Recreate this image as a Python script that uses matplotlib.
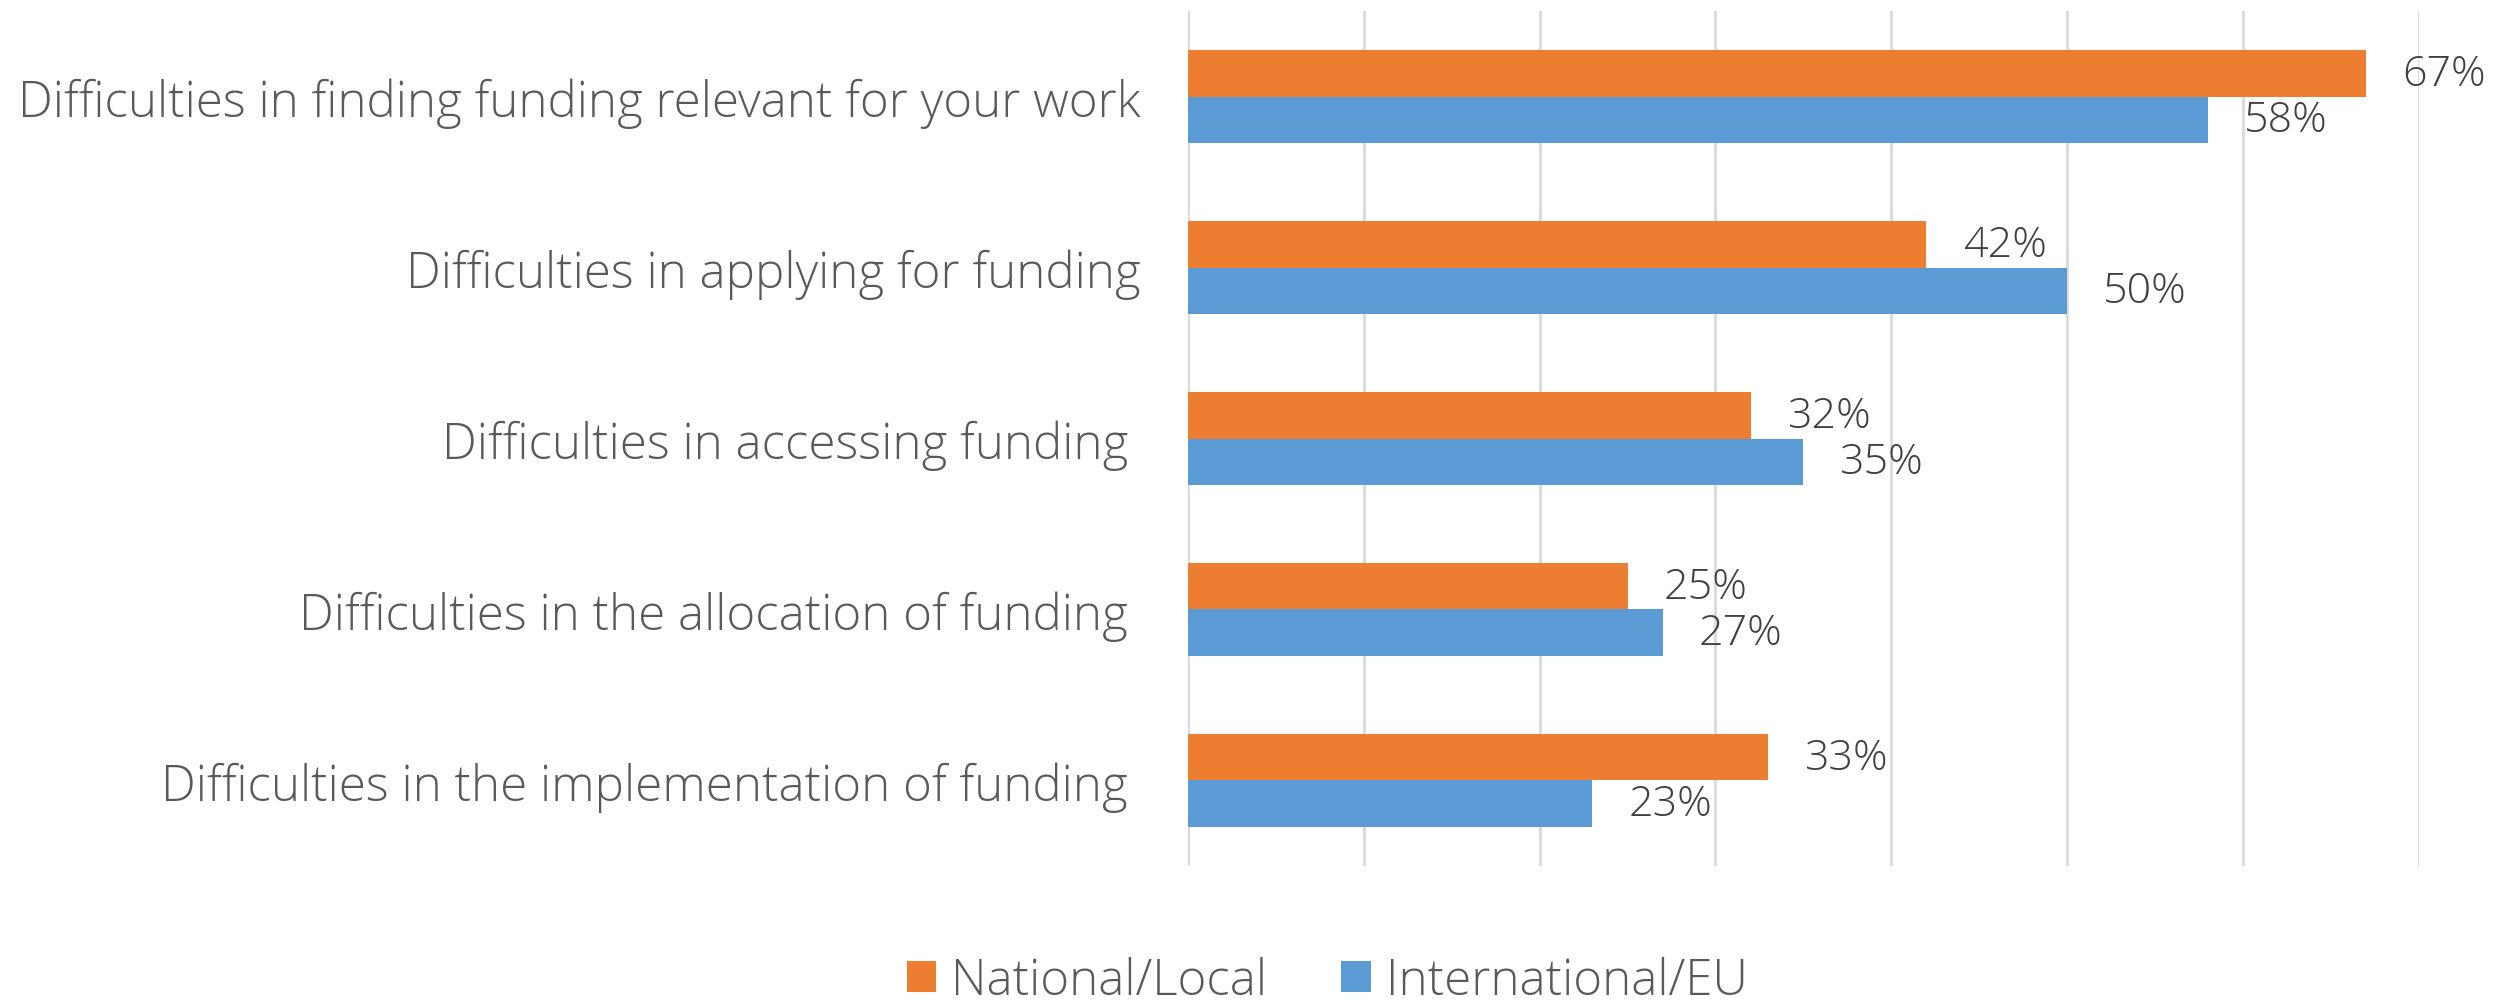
import numpy as np
import matplotlib
matplotlib.use("Agg")
import matplotlib.pyplot as plt

categories = [
    "Difficulties in finding funding relevant for your work",
    "Difficulties in applying for funding",
    "Difficulties in accessing funding ",
    "Difficulties in the allocation of funding ",
    "Difficulties in the implementation of funding ",
]
national = [67, 42, 32, 25, 33]
international = [58, 50, 35, 27, 23]
series_names = ["National/Local", "International/EU"]

ORANGE = "#ED7D31"
BLUE = "#5B9BD5"
TEXT = "#595959"

plt.rcParams["font.family"] = ["Open Sans", "DejaVu Sans"]
plt.rcParams["font.weight"] = "light"

fig = plt.figure(figsize=(25.04, 10.04), dpi=100)
ax = fig.add_axes([0.4744, 0.1365, 0.4916, 0.8515])

y = np.arange(len(categories))
h = 0.27
b1 = ax.barh(y - h / 2, national, height=h, color=ORANGE, label=series_names[0], zorder=3)
b2 = ax.barh(y + h / 2, international, height=h, color=BLUE, label=series_names[1], zorder=3)

# data labels to the right of each bar
for bars, vals in ((b1, national), (b2, international)):
    for bar, v in zip(bars, vals):
        ax.annotate(f"{v}%", (bar.get_width(), bar.get_y() + bar.get_height() / 2),
                    xytext=(26, 0), textcoords="offset points", ha="left", va="center",
                    fontsize=31, color="#404040")

ax.set_xlim(0, 70)
ax.set_ylim(len(categories) - 0.5, -0.5)
ax.set_xticks(np.arange(0, 71, 10))
ax.set_xticklabels([])
ax.set_yticks(y)
ax.set_yticklabels(categories, fontsize=35.5, color=TEXT)
ax.tick_params(axis="both", length=0)
ax.tick_params(axis="y", pad=34)
ax.grid(axis="x", color="#D9D9D9", linewidth=2, zorder=0)
for s in ax.spines.values():
    s.set_visible(False)

fig.legend(handles=[b1, b2], loc="center", bbox_to_anchor=(0.530, 0.022), ncol=2,
           frameon=False, fontsize=35.5, labelcolor=TEXT, handlelength=0.6, handleheight=0.6,
           handletextpad=0.3, columnspacing=1.5, borderpad=0)

fig.savefig("out.png", dpi=100)
